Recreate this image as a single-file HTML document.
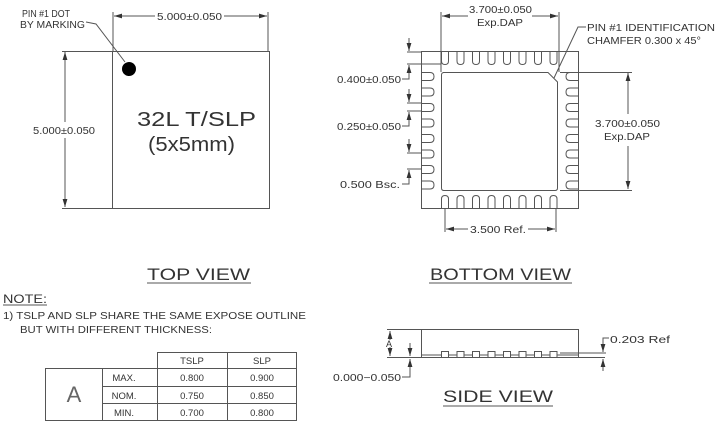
<!DOCTYPE html>
<html><head><meta charset="utf-8"><style>
html,body{margin:0;padding:0;background:#fff;}
svg{display:block;}
text{font-family:"Liberation Sans",sans-serif;fill:#333;}
</style></head><body>
<svg width="719" height="429" viewBox="0 0 719 429" xmlns="http://www.w3.org/2000/svg">
<defs>
<marker id="a" viewBox="0 0 10 6" refX="10" refY="3" markerWidth="8" markerHeight="5" orient="auto-start-reverse" markerUnits="userSpaceOnUse"><path d="M0,0 L10,3 L0,6 z" fill="#333"/></marker>
</defs>
<g stroke="#555" stroke-width="1" fill="none">
<!-- TOP VIEW -->
<rect x="112.5" y="51.5" width="157" height="157"/>
<line x1="113" y1="12" x2="113" y2="51"/>
<line x1="268" y1="12" x2="268" y2="51"/>
<line x1="114" y1="16" x2="155" y2="16" marker-start="url(#a)"/>
<line x1="224" y1="16" x2="267" y2="16" marker-end="url(#a)"/>
<line x1="62" y1="51.5" x2="112" y2="51.5"/>
<line x1="62" y1="208.5" x2="112" y2="208.5"/>
<line x1="65" y1="52" x2="65" y2="122" marker-start="url(#a)"/>
<line x1="65" y1="138" x2="65" y2="207" marker-end="url(#a)"/>
<polyline points="86,22 96,24 125,62"/>
<!-- BOTTOM VIEW -->
<rect x="421.5" y="51.5" width="157" height="157"/>
<path d="M443,72.5 H548 L557.5,82 V188 Q557.5,190.5 555,190.5 H444 Q441.5,190.5 441.5,188 V75 Q441.5,72.5 444,72.5 Z"/>
<line x1="441" y1="12" x2="441" y2="72"/>
<line x1="559" y1="12" x2="559" y2="72"/>
<line x1="442" y1="16" x2="468" y2="16" marker-start="url(#a)"/>
<line x1="532" y1="16" x2="558" y2="16" marker-end="url(#a)"/>
<line x1="560" y1="72.5" x2="632" y2="72.5"/>
<line x1="560" y1="190.5" x2="632" y2="190.5"/>
<line x1="628" y1="73" x2="628" y2="114" marker-start="url(#a)"/>
<line x1="628" y1="146" x2="628" y2="189" marker-end="url(#a)"/>
<polyline points="586,27 578,27 554,78"/>
<line x1="445" y1="209" x2="445" y2="232"/>
<line x1="556" y1="209" x2="556" y2="232"/>
<line x1="446" y1="229" x2="468" y2="229" marker-start="url(#a)"/>
<line x1="528" y1="229" x2="555" y2="229" marker-end="url(#a)"/>
<!-- left dims -->
<line x1="407" y1="52" x2="421" y2="52"/>
<line x1="407" y1="64" x2="441" y2="64"/>
<line x1="409" y1="38" x2="409" y2="51" marker-end="url(#a)"/>
<polyline points="409,66 409,79 402,79" />
<line x1="409" y1="76" x2="409" y2="65" marker-end="url(#a)"/>
<line x1="407" y1="103" x2="422" y2="103"/>
<line x1="407" y1="111" x2="422" y2="111"/>
<line x1="409" y1="89" x2="409" y2="102" marker-end="url(#a)"/>
<polyline points="409,113 409,126 402,126"/>
<line x1="409" y1="123" x2="409" y2="112" marker-end="url(#a)"/>
<line x1="407" y1="153" x2="422" y2="153"/>
<line x1="407" y1="169" x2="422" y2="169"/>
<line x1="409" y1="139" x2="409" y2="152" marker-end="url(#a)"/>
<polyline points="409,171 409,184 402,184"/>
<line x1="409" y1="181" x2="409" y2="170" marker-end="url(#a)"/>
<!-- SIDE VIEW -->
<rect x="421.5" y="329.5" width="157" height="28"/>
<line x1="387" y1="329.5" x2="421" y2="329.5"/>
<line x1="387" y1="357.5" x2="605" y2="357.5"/>
<line x1="421" y1="355" x2="578" y2="355"/>
<line x1="560" y1="353" x2="606" y2="353"/>
<line x1="390" y1="331" x2="390" y2="340" marker-start="url(#a)"/>
<line x1="390" y1="347" x2="390" y2="356" marker-end="url(#a)"/>
<line x1="410" y1="343" x2="410" y2="356" marker-end="url(#a)"/>
<polyline points="410,359 410,377 402,377"/>
<line x1="410" y1="370" x2="410" y2="359" marker-end="url(#a)"/>
<line x1="603" y1="340" x2="603" y2="352" marker-end="url(#a)"/>
<line x1="603" y1="371" x2="603" y2="359" marker-end="url(#a)"/>
<polyline points="603,340 603,338 609,338"/>
<!-- underlines -->
<line x1="147" y1="283" x2="251" y2="283"/>
<line x1="429" y1="283" x2="572" y2="283"/>
<line x1="443" y1="406" x2="553" y2="406"/>
<line x1="3" y1="305" x2="47" y2="305"/>
<!-- table -->
<rect x="157.5" y="352.5" width="139" height="68"/>
<rect x="45.5" y="368.5" width="112" height="52"/>
<line x1="102.5" y1="368" x2="102.5" y2="421"/>
<line x1="227.5" y1="352" x2="227.5" y2="421"/>
<line x1="102" y1="368.5" x2="297" y2="368.5"/>
<line x1="102" y1="386.5" x2="297" y2="386.5"/>
<line x1="102" y1="403.5" x2="297" y2="403.5"/>
</g>
<circle cx="129" cy="69" r="7" fill="#000"/>
<g stroke="#555" stroke-width="1" fill="none">
<path d="M441.5,52 V61 Q441.5,64.5 445,64.5 Q448.5,64.5 448.5,61 V52"/>
<path d="M457,52 V61 Q457,64.5 460.5,64.5 Q464,64.5 464,61 V52"/>
<path d="M472.5,52 V61 Q472.5,64.5 476,64.5 Q479.5,64.5 479.5,61 V52"/>
<path d="M488,52 V61 Q488,64.5 491.5,64.5 Q495,64.5 495,61 V52"/>
<path d="M503.5,52 V61 Q503.5,64.5 507,64.5 Q510.5,64.5 510.5,61 V52"/>
<path d="M519,52 V61 Q519,64.5 522.5,64.5 Q526,64.5 526,61 V52"/>
<path d="M534.5,52 V61 Q534.5,64.5 538,64.5 Q541.5,64.5 541.5,61 V52"/>
<path d="M550,52 V61 Q550,64.5 553.5,64.5 Q557,64.5 557,61 V52"/>
<path d="M441.5,208 V199 Q441.5,195.5 445,195.5 Q448.5,195.5 448.5,199 V208"/>
<path d="M457,208 V199 Q457,195.5 460.5,195.5 Q464,195.5 464,199 V208"/>
<path d="M472.5,208 V199 Q472.5,195.5 476,195.5 Q479.5,195.5 479.5,199 V208"/>
<path d="M488,208 V199 Q488,195.5 491.5,195.5 Q495,195.5 495,199 V208"/>
<path d="M503.5,208 V199 Q503.5,195.5 507,195.5 Q510.5,195.5 510.5,199 V208"/>
<path d="M519,208 V199 Q519,195.5 522.5,195.5 Q526,195.5 526,199 V208"/>
<path d="M534.5,208 V199 Q534.5,195.5 538,195.5 Q541.5,195.5 541.5,199 V208"/>
<path d="M550,208 V199 Q550,195.5 553.5,195.5 Q557,195.5 557,199 V208"/>
<path d="M422,72.5 H430 Q434,72.5 434,76.5 Q434,80.5 430,80.5 H422"/>
<path d="M422,88 H430 Q434,88 434,92 Q434,96 430,96 H422"/>
<path d="M422,103.5 H430 Q434,103.5 434,107.5 Q434,111.5 430,111.5 H422"/>
<path d="M422,119 H430 Q434,119 434,123 Q434,127 430,127 H422"/>
<path d="M422,134.5 H430 Q434,134.5 434,138.5 Q434,142.5 430,142.5 H422"/>
<path d="M422,150 H430 Q434,150 434,154 Q434,158 430,158 H422"/>
<path d="M422,165.5 H430 Q434,165.5 434,169.5 Q434,173.5 430,173.5 H422"/>
<path d="M422,181 H430 Q434,181 434,185 Q434,189 430,189 H422"/>
<path d="M578,72.5 H570 Q566,72.5 566,76.5 Q566,80.5 570,80.5 H578"/>
<path d="M578,88 H570 Q566,88 566,92 Q566,96 570,96 H578"/>
<path d="M578,103.5 H570 Q566,103.5 566,107.5 Q566,111.5 570,111.5 H578"/>
<path d="M578,119 H570 Q566,119 566,123 Q566,127 570,127 H578"/>
<path d="M578,134.5 H570 Q566,134.5 566,138.5 Q566,142.5 570,142.5 H578"/>
<path d="M578,150 H570 Q566,150 566,154 Q566,158 570,158 H578"/>
<path d="M578,165.5 H570 Q566,165.5 566,169.5 Q566,173.5 570,173.5 H578"/>
<path d="M578,181 H570 Q566,181 566,185 Q566,189 570,189 H578"/>
</g>
<g stroke="#555" stroke-width="1" fill="#fff">
<rect x="441.5" y="351.5" width="7" height="6"/>
<rect x="457" y="351.5" width="7" height="6"/>
<rect x="472.5" y="351.5" width="7" height="6"/>
<rect x="488" y="351.5" width="7" height="6"/>
<rect x="503.5" y="351.5" width="7" height="6"/>
<rect x="519" y="351.5" width="7" height="6"/>
<rect x="534.5" y="351.5" width="7" height="6"/>
<rect x="550" y="351.5" width="7" height="6"/>
</g>
<g font-size="10">
<text x="22" y="17" textLength="48" lengthAdjust="spacingAndGlyphs">PIN #1 DOT</text>
<text x="20" y="28" textLength="65" lengthAdjust="spacingAndGlyphs">BY MARKING</text>
<text x="157" y="20" textLength="65" lengthAdjust="spacingAndGlyphs">5.000±0.050</text>
<text x="33" y="134" textLength="62" lengthAdjust="spacingAndGlyphs">5.000±0.050</text>
<text x="469" y="13" textLength="63" lengthAdjust="spacingAndGlyphs">3.700±0.050</text>
<text x="477" y="26" textLength="46" lengthAdjust="spacingAndGlyphs">Exp.DAP</text>
<text x="587" y="31" textLength="128" lengthAdjust="spacingAndGlyphs">PIN #1 IDENTIFICATION</text>
<text x="587" y="44" textLength="114" lengthAdjust="spacingAndGlyphs">CHAMFER 0.300 x 45°</text>
<text x="595" y="127" textLength="65" lengthAdjust="spacingAndGlyphs">3.700±0.050</text>
<text x="604" y="140" textLength="46" lengthAdjust="spacingAndGlyphs">Exp.DAP</text>
<text x="337" y="83" textLength="64" lengthAdjust="spacingAndGlyphs">0.400±0.050</text>
<text x="337" y="130" textLength="64" lengthAdjust="spacingAndGlyphs">0.250±0.050</text>
<text x="340" y="188" textLength="60" lengthAdjust="spacingAndGlyphs">0.500 Bsc.</text>
<text x="470" y="233" textLength="56" lengthAdjust="spacingAndGlyphs">3.500 Ref.</text>
<text x="610" y="343" textLength="60" lengthAdjust="spacingAndGlyphs">0.203 Ref</text>
<text x="333" y="381" textLength="68" lengthAdjust="spacingAndGlyphs">0.000−0.050</text>
<text x="386" y="347" font-size="9">A</text>
<text x="3" y="319" textLength="303" lengthAdjust="spacingAndGlyphs">1) TSLP AND SLP SHARE THE SAME EXPOSE OUTLINE</text>
<text x="20" y="333" textLength="192" lengthAdjust="spacingAndGlyphs">BUT WITH DIFFERENT THICKNESS:</text>
</g>
<g font-size="9.5" text-anchor="middle">
<text x="192" y="364">TSLP</text><text x="262" y="364">SLP</text>
<text x="124" y="381">MAX.</text><text x="192" y="381">0.800</text><text x="262" y="381">0.900</text>
<text x="124" y="399">NOM.</text><text x="192" y="399">0.750</text><text x="262" y="399">0.850</text>
<text x="124" y="416">MIN.</text><text x="192" y="416">0.700</text><text x="262" y="416">0.800</text>
</g>
<text x="74" y="402" font-size="22" text-anchor="middle" style="fill:#666">A</text>
<g style="fill:#666">
<text x="137" y="126" font-size="20" textLength="119" lengthAdjust="spacingAndGlyphs">32L T/SLP</text>
<text x="148" y="151" font-size="20" textLength="87" lengthAdjust="spacingAndGlyphs">(5x5mm)</text>
<text x="147" y="280" font-size="17" textLength="103" lengthAdjust="spacingAndGlyphs">TOP VIEW</text>
<text x="430" y="280" font-size="17" textLength="141" lengthAdjust="spacingAndGlyphs">BOTTOM VIEW</text>
<text x="443" y="402" font-size="17" textLength="110" lengthAdjust="spacingAndGlyphs">SIDE VIEW</text>
<text x="3" y="303" font-size="12" textLength="44" lengthAdjust="spacingAndGlyphs">NOTE:</text>
</g>
</svg>
</body></html>
